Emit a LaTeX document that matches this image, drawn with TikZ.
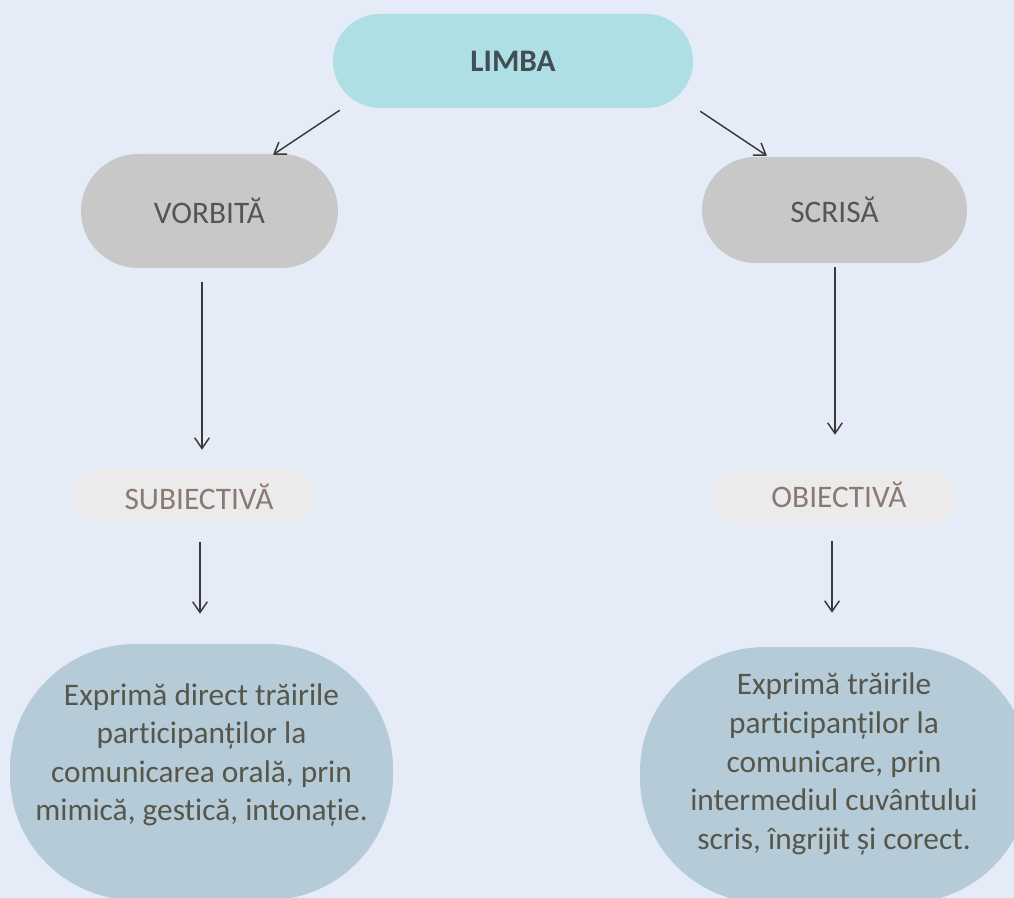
\documentclass[tikz,border=0pt]{standalone}
\usepackage{fontspec}
\setmainfont{Carlito}[Ligatures={NoCommon,NoRare,NoContextual}]
\usetikzlibrary{arrows.meta}
\definecolor{bgc}{HTML}{E6ECF7}
\definecolor{limbafill}{HTML}{AEDFE5}
\definecolor{limbatext}{HTML}{424D54}
\definecolor{grayfill}{HTML}{C8C8C8}
\definecolor{graytext}{HTML}{555555}
\definecolor{lightfill}{HTML}{EBEBEB}
\definecolor{lighttext}{HTML}{8A7A73}
\definecolor{bluefill}{HTML}{B5CBD8}
\definecolor{bodytext}{HTML}{57564B}
\definecolor{arrowc}{HTML}{3A3A3A}
\tikzset{
  box/.style={draw=none, inner sep=0pt, font=\fontsize{23.5}{28.9}\selectfont},
  arr/.style={draw=arrowc, line width=1.1pt, -{Straight Barb[length=8pt,width=11pt,line width=1.1pt]}},
  bodytxt/.style={inner sep=0pt, align=center, text=bodytext, font=\fontsize{23.5}{28.9}\selectfont},
}
\begin{document}
\begin{tikzpicture}[x=0.75pt,y=-0.75pt]
\useasboundingbox (0,0) rectangle (1014,898);
\clip (0,0) rectangle (1014,898);
\fill[bgc] (0,0) rectangle (1014,898);

\node[box, fill=limbafill, text=limbatext, rounded corners=35.25pt, minimum width=270pt, minimum height=70.5pt, font=\fontsize{23.5}{28.9}\selectfont\bfseries] (limba) at (513,61) {LIMBA};
\node[box, fill=grayfill, text=graytext, rounded corners=42.75pt, minimum width=192.75pt, minimum height=85.5pt] (vorbita) at (209.5,211) {VORBITĂ};
\node[box, fill=grayfill, text=graytext, rounded corners=39.75pt, minimum width=198.75pt, minimum height=79.5pt] (scrisa) at (834.5,210) {SCRISĂ};
\node[box, fill=lightfill, rounded corners=20.6pt, minimum width=181.5pt, minimum height=41.25pt] (subiectiva) at (194,495.5) {};
\node[text=lighttext, inner sep=0pt, font=\fontsize{23.5}{28.9}\selectfont] (subtext) at (199,497) {SUBIECTIVĂ};
\node[box, fill=lightfill, rounded corners=20.6pt, minimum width=183pt, minimum height=41.25pt] (obiectiva) at (835,497.5) {};
\node[text=lighttext, inner sep=0pt, font=\fontsize{23.5}{28.9}\selectfont] (obtext) at (839,495) {OBIECTIVĂ};

\node[box, fill=bluefill, rounded corners=93.75pt, minimum width=287.25pt, minimum height=192pt] (d1) at (201.5,772) {};
\node[box, fill=bluefill, rounded corners=93.75pt, minimum width=292.5pt, minimum height=192pt] (d2) at (835,775) {};
\node[bodytxt] (t1) at (201.5,755) {Exprimă direct trăirile\\participanților la\\comunicarea orală, prin\\mimică, gestică, intonație.};
\node[bodytxt] (t2) at (834,764) {Exprimă trăirile\\participanților la\\comunicare, prin\\intermediul cuvântului\\scris, îngrijit și corect.};

\draw[arr] ([shift={(7,2)}]limba.south west) -- ([shift={(63.5,1)}]vorbita.north);
\draw[arr] ([shift={(7,3)}]limba.south east) -- ([shift={(-67.5,-1)}]scrisa.north);
\draw[arr] ([shift={(-7.5,14)}]vorbita.south) -- ([shift={(8,-18)}]subiectiva.north);
\draw[arr] ([shift={(0.5,4)}]scrisa.south) -- ([shift={(0,-35)}]obiectiva.north);
\draw[arr] ([shift={(6,19)}]subiectiva.south) -- ([shift={(-1.5,-30)}]d1.north);
\draw[arr] ([shift={(-3,16)}]obiectiva.south) -- ([shift={(-3,-34)}]d2.north);
\end{tikzpicture}
\end{document}
